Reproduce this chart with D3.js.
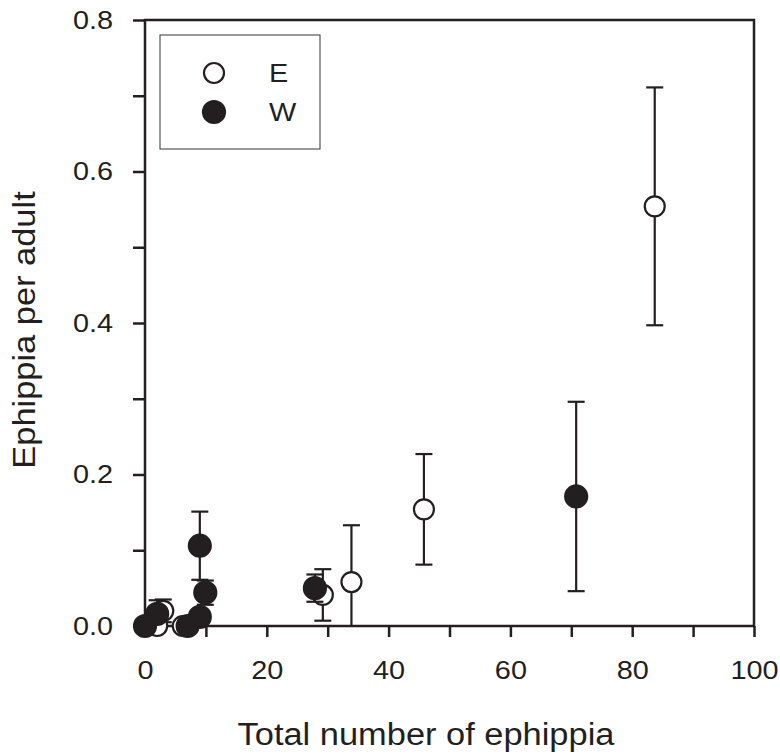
<!DOCTYPE html>
<html>
<head>
<meta charset="utf-8">
<script src="https://cdn.jsdelivr.net/npm/d3@7"></script>
<style>
  body { margin: 0; background: #fff; }
  text { font-family: "Liberation Sans", Arial, sans-serif; fill: #231f20; }
</style>
</head>
<body>
<div id="app"></div>
<script>
'use strict'
const W = 780
const H = 756
const margin = { top: 20, right: 26, bottom: 130, left: 145 }
const width = W - margin.left - margin.right
const height = H - margin.top - margin.bottom
const ink = '#231f20'
const stretch = 1.11

// Series E (open circles)
const eX = [2.0, 3.0, 6.2, 29.2, 33.9, 45.8, 83.7]
const eY = [0.000, 0.020, 0.000, 0.041, 0.058, 0.154, 0.554]
const eErr = [0, 0.015, 0, 0.034, 0.075, 0.073, 0.157]

// Series W (filled circles)
const wX = [0.0, 2.0, 7.0, 9.0, 9.0, 9.9, 27.9, 70.8]
const wY = [0.000, 0.016, 0.000, 0.012, 0.106, 0.044, 0.050, 0.171]
const wErr = [0, 0.018, 0, 0, 0.045, 0.016, 0.018, 0.125]

const xTicks = d3.range(0, 101, 10)
const yTicks = d3.range(0, 0.81, 0.1)
const xLabel = 'Total number of ephippia'
const yLabel = 'Ephippia per adult'
const legendNames = ['E', 'W']

const toPoints = (xs, ys, errs) => xs.map((x, i) => ({ x, y: ys[i], err: errs[i] }))
const series = [
  { name: 'E', fill: '#fff', r: 10, points: toPoints(eX, eY, eErr) },
  { name: 'W', fill: ink, r: 11, points: toPoints(wX, wY, wErr) }
]

// the original font is a little wider than Liberation Sans
function widen (sel) {
  sel.each(function () {
    const len = this.getComputedTextLength()
    if (len > 0) {
      d3.select(this)
        .attr('textLength', len * stretch)
        .attr('lengthAdjust', 'spacingAndGlyphs')
    }
  })
}

const svg = d3.select('#app').append('svg')
  .attr('width', W)
  .attr('height', H)
  .append('g')
  .attr('transform', `translate(${margin.left}, ${margin.top})`)

const xScale = d3.scaleLinear().domain([0, 100]).range([0, width])
const yScale = d3.scaleLinear().domain([0, 0.8]).range([height, 0])

/*
 * Axes: ticks every 10 / 0.1, labels every 20 / 0.2.
 */
const xAxis = svg.append('g')
  .attr('transform', `translate(0, ${height})`)
  .call(d3.axisBottom(xScale)
    .tickValues(xTicks)
    .tickSize(11)
    .tickSizeOuter(0)
    .tickPadding(19)
    .tickFormat(d => d % 20 === 0 ? d : ''))

const yAxis = svg.append('g')
  .call(d3.axisLeft(yScale)
    .tickValues(yTicks)
    .tickSize(12)
    .tickSizeOuter(0)
    .tickPadding(20)
    .tickFormat(d => Math.round(d * 10) % 2 === 0 ? d3.format('.1f')(d) : ''))

svg.selectAll('.domain').remove()
svg.selectAll('.tick line').attr('stroke', ink).attr('stroke-width', 2.5)
svg.selectAll('.tick text')
  .style('font-size', '26px')
  .style('font-family', '"Liberation Sans", Arial, sans-serif')
  .attr('fill', ink)
  .call(widen)
xAxis.selectAll('.tick text').attr('dy', '0.9em')

// frame
svg.append('rect')
  .attr('width', width)
  .attr('height', height)
  .attr('fill', 'none')
  .attr('stroke', ink)
  .attr('stroke-width', 2.5)

/*
 * Error bars, clipped to the plot area.
 */
svg.append('clipPath').attr('id', 'plot-clip')
  .append('rect').attr('width', width).attr('height', height)

const capW = 8.5
const groups = svg.selectAll('g.series')
  .data(series)
  .enter()
  .append('g')
  .attr('class', 'series')

groups.each(function (s) {
  const g = d3.select(this)
  const bars = g.append('g').attr('clip-path', 'url(#plot-clip)')
    .selectAll('g')
    .data(s.points.filter(p => p.err > 0))
    .enter()
    .append('g')
    .attr('stroke', ink)
    .attr('stroke-width', 2.2)
  bars.append('line')
    .attr('x1', d => xScale(d.x)).attr('x2', d => xScale(d.x))
    .attr('y1', d => yScale(d.y - d.err)).attr('y2', d => yScale(d.y + d.err))
  bars.append('line')
    .attr('x1', d => xScale(d.x) - capW).attr('x2', d => xScale(d.x) + capW)
    .attr('y1', d => yScale(d.y + d.err)).attr('y2', d => yScale(d.y + d.err))
  bars.append('line')
    .attr('x1', d => xScale(d.x) - capW).attr('x2', d => xScale(d.x) + capW)
    .attr('y1', d => yScale(d.y - d.err)).attr('y2', d => yScale(d.y - d.err))
    .attr('display', d => d.y - d.err < 0 ? 'none' : null)

  g.selectAll('circle')
    .data(s.points)
    .enter()
    .append('circle')
    .attr('cx', d => xScale(d.x))
    .attr('cy', d => yScale(d.y))
    .attr('r', s.r)
    .style('fill', s.fill)
    .style('stroke', ink)
    .style('stroke-width', 2.2)
})

/*
 * Legend
 */
const legend = svg.append('g').attr('transform', 'translate(15, 15)')
legend.append('rect')
  .attr('width', 160)
  .attr('height', 114)
  .attr('fill', '#fff')
  .attr('stroke', '#555')
  .attr('stroke-width', 1.2)

const items = legend.selectAll('g.item')
  .data(series)
  .enter()
  .append('g')
  .attr('class', 'item')
  .attr('transform', (d, i) => `translate(0, ${38 + i * 39})`)
items.append('circle')
  .attr('cx', 54)
  .attr('r', d => d.r)
  .style('fill', d => d.fill)
  .style('stroke', ink)
  .style('stroke-width', 2.2)
items.append('text')
  .attr('x', 109)
  .attr('dy', '0.36em')
  .style('font-size', '26px')
  .text((d, i) => legendNames[i])
  .call(widen)

/*
 * Axis titles
 */
svg.append('text')
  .attr('x', 281)
  .attr('y', height + 119)
  .attr('text-anchor', 'middle')
  .style('font-size', '31px')
  .text(xLabel)
  .call(widen)

svg.append('text')
  .attr('transform', `translate(${-110}, ${310}) rotate(-90)`)
  .attr('text-anchor', 'middle')
  .style('font-size', '31px')
  .text(yLabel)
  .call(widen)
</script>
</body>
</html>
